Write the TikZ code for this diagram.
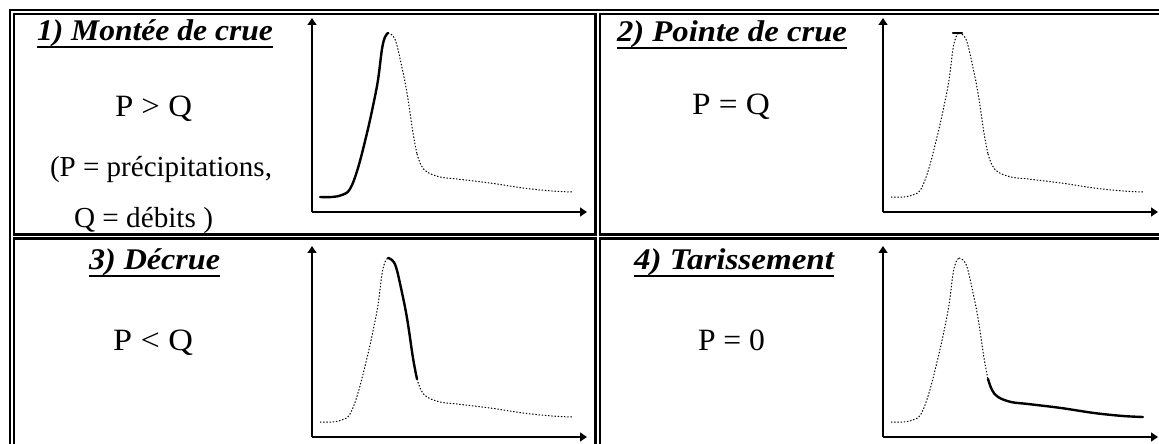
\documentclass[tikz,border=0pt]{standalone}
\usepackage{fontspec}
\setmainfont{Liberation Serif}
\usetikzlibrary{arrows.meta}
\newcommand{\hydtitle}{\fontsize{30bp}{30bp}\selectfont\bfseries\itshape}
\newcommand{\hydbody}{\fontsize{29bp}{29bp}\selectfont}
\newcommand{\hydrel}{\fontsize{31bp}{31bp}\selectfont}
\newcommand{\hydro}[6]{%
\begin{scope}[shift={(#1,#2)}]
 \coordinate (o) at (0,0);
 \coordinate (ytop) at (0,-#6);
 \coordinate (xend) at (275,0);
 \draw[axis] (o) -- (ytop);
 \draw[axis] (o) -- (xend);
 \draw[#3] plot[smooth,tension=0.6] coordinates {(8,-15) (20,-15) (30,-17) (38,-23) (46,-44) (55,-79) (61,-106) (66,-132) (70,-163) (73,-175) (76,-179)};
 \draw[#4] plot[smooth,tension=0.6] coordinates {(76,-179) (80,-177) (84,-170) (89,-149) (95,-119) (101,-79) (105,-58)};
 \draw[#5] plot[smooth,tension=0.6] coordinates {(105,-58) (109,-47) (115,-40) (128,-35) (145,-33) (178,-29) (211,-24) (240,-21) (260,-20)};
\end{scope}}
\begin{document}
\begin{tikzpicture}[x=1bp,y=-1bp,
  txt/.style={anchor=base west, inner sep=0pt, outer sep=0pt},
  thinrule/.style={line width=1.4bp},
  thickrule/.style={line width=2.6bp},
  axis/.style={line width=1.3bp, -{Triangle[length=7bp,width=9bp]}},
  dotc/.style={line width=1bp, dash pattern=on 1.4bp off 1.8bp},
  solc/.style={line width=2.4bp, line cap=round},
  uline/.style={line width=2.2bp}]
\clip (0,0) rectangle (1159,444);
\fill[white] (0,0) rectangle (1159,444);
% frame (double borders)
\draw[thinrule] (10,500) -- (10,10) -- (1200,10);
\draw[thickrule] (14,14) rectangle (595.5,234.7);
\draw[thickrule] (600,14) rectangle (1200,234.7);
\draw[thickrule] (14,238.7) rectangle (595.5,500);
\draw[thickrule] (600,238.7) rectangle (1200,500);
% cell 1
\node[txt] (t1) at (37,41) {\resizebox{236bp}{\height}{\hydtitle 1) Montée de crue}};
\draw[uline] ([yshift=-6bp]t1.base west) -- ([yshift=-6bp]t1.base east);
\node[txt] (e1) at (115,117) {\resizebox{77bp}{\height}{\hydrel P > Q}};
\node[txt] (n1) at (50,177) {\resizebox{222bp}{\height}{\hydbody (P = précipitations,}};
\node[txt] (n2) at (74,228) {\resizebox{139bp}{\height}{\hydbody Q = débits )}};
\hydro{312}{212}{solc}{dotc}{dotc}{194}
% cell 2
\node[txt] (t2) at (617,42) {\resizebox{230bp}{\height}{\hydtitle 2) Pointe de crue}};
\draw[uline] ([yshift=-6bp]t2.base west) -- ([yshift=-6bp]t2.base east);
\node[txt] (e2) at (692,115) {\resizebox{78bp}{\height}{\hydrel P = Q}};
\hydro{883}{212}{dotc}{dotc}{dotc}{194}
\draw[solc] (953,33) -- (962,33);
% cell 3
\node[txt] (t3) at (89,270) {\resizebox{131bp}{\height}{\hydtitle 3) Décrue}};
\draw[uline] ([yshift=-6bp]t3.base west) -- ([yshift=-6bp]t3.base east);
\node[txt] (e3) at (113,351) {\resizebox{80bp}{\height}{\hydrel P < Q}};
\hydro{312}{437}{dotc}{solc}{dotc}{191}
% cell 4
\node[txt] (t4) at (634,270) {\resizebox{200bp}{\height}{\hydtitle 4) Tarissement}};
\draw[uline] ([yshift=-6bp]t4.base west) -- ([yshift=-6bp]t4.base east);
\node[txt] (e4) at (698,351) {\resizebox{67bp}{\height}{\hydrel P = 0}};
\hydro{883}{437}{dotc}{dotc}{solc}{191}
\end{tikzpicture}
\end{document}
